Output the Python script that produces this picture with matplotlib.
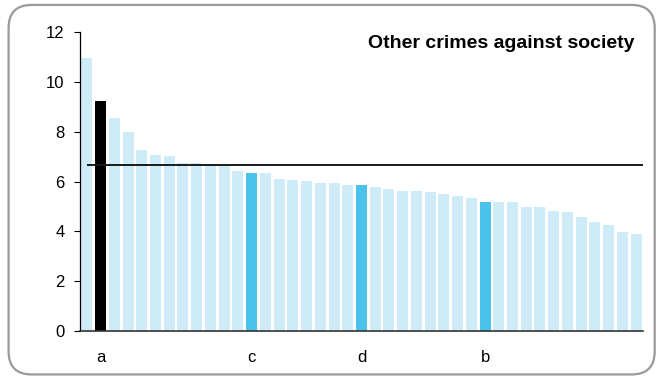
"""
Other crimes against society: 各地区比率条形图 (降序), 突出 a/b/c/d 四个地区
Output: out.png
"""
import numpy as np
import matplotlib
matplotlib.use("Agg")
import matplotlib.pyplot as plt
from matplotlib.patches import FancyBboxPatch

plt.rcParams["font.family"] = ["Liberation Sans", "DejaVu Sans"]

# 数据
values = [10.95, 9.24, 8.54, 7.98, 7.27, 7.07, 7.03, 6.74, 6.74, 6.65,
          6.64, 6.41, 6.36, 6.36, 6.11, 6.07, 6.03, 5.95, 5.92, 5.87,
          5.85, 5.79, 5.69, 5.61, 5.61, 5.56, 5.50, 5.42, 5.34, 5.18,
          5.16, 5.16, 4.97, 4.97, 4.83, 4.78, 4.58, 4.38, 4.25, 3.99,
          3.88]
highlight_idx = [1, 12, 20, 29]
highlight_lbl = ["a", "c", "d", "b"]
highlight_kind = ["black", "blue", "blue", "blue"]
average = 6.65
title = "Other crimes against society"

LIGHT = "#cdecf8"
BLUE = "#4bc2eb"
BLACK = "#000000"


def main():
    fig = plt.figure(figsize=(6.6, 3.79), dpi=100)

    # 圆角外框
    frame = FancyBboxPatch((0.013, 0.012), 0.979, 0.975,
                           boxstyle="round,pad=0,rounding_size=0.035",
                           transform=fig.transFigure, fill=False,
                           edgecolor="#9a9a9a", lw=1.6, mutation_aspect=660 / 379)
    fig.patches.append(frame)

    ax = fig.add_axes([0.1212, 0.1266, 0.8530, 0.789])
    x = np.arange(len(values))
    colors = [LIGHT] * len(values)
    for i, k in zip(highlight_idx, highlight_kind):
        colors[i] = BLACK if k == "black" else BLUE
    ax.bar(x, values, width=0.8, color=colors, zorder=2)
    ax.hlines(average, 0, len(values) - 0.5, color="#1a1a1a", lw=1.4, zorder=3)

    ax.set_xlim(-0.5, len(values) - 0.5)
    ax.set_ylim(0, 12)
    ax.set_yticks(range(0, 13, 2))
    ax.set_xticks(highlight_idx)
    ax.set_xticklabels(highlight_lbl)
    ax.tick_params(axis="x", length=0, pad=14, labelsize=12)
    ax.tick_params(axis="y", length=4, width=0.8, pad=7, labelsize=12)
    for s in ["top", "right"]:
        ax.spines[s].set_visible(False)
    ax.spines["left"].set_linewidth(0.9)
    ax.spines["bottom"].set_linewidth(1.2)
    ax.spines["bottom"].set_color("#333333")

    ax.text(0.985, 0.99, title, transform=ax.transAxes, ha="right", va="top",
            fontsize=14, fontweight="bold")

    fig.savefig("out.png", dpi=100)
    plt.close(fig)


if __name__ == "__main__":
    main()
